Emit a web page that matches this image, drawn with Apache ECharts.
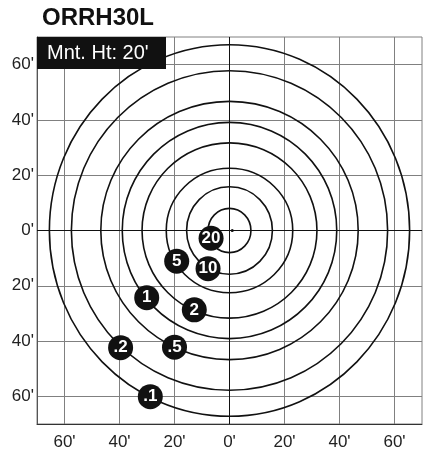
<!DOCTYPE html>
<html>
<head>
<meta charset="utf-8">
<script src="https://cdn.jsdelivr.net/npm/echarts@6/dist/echarts.min.js"></script>
<style>html,body{margin:0;padding:0;background:#fff;}#c{width:425px;height:451px;}</style>
</head>
<body>
<div id="c"></div>
<script>
// ---- data ----
const titleText = 'ORRH30L';
const mountText = "Mnt. Ht: 20'";
const tickValues = [-60, -40, -20, 0, 20, 40, 60];
const levelLabels = ['20', '10', '5', '2', '1', '.5', '.2', '.1'];
const contourRadiusX = [7.8, 15.6, 23.0, 31.8, 39.0, 46.8, 57.5, 65.5];
const contourRadiusY = [8.0, 15.8, 22.5, 31.7, 39.1, 46.7, 57.8, 67.2];
const labelX = [-6.7, -7.8, -19.2, -12.8, -30.1, -20.0, -39.6, -28.8];
const labelY = [-2.8, -13.8, -11.1, -28.7, -24.3, -42.2, -42.4, -60.1];
const fixturePoint = [1, 0];

const FONT = '"Liberation Sans", Arial, sans-serif';
const fmt = v => tickValues.indexOf(v) >= 0 ? Math.abs(v) + "'" : '';

const chart = echarts.init(document.getElementById('c'), null, {renderer: 'canvas'});
const gridColors = ['rgba(0,0,0,0)', '#808080'];

chart.setOption({
  animation: false,
  title: {
    text: titleText, left: 42, top: 6, padding: 0,
    textStyle: {fontFamily: FONT, fontWeight: 'bold', fontSize: 24, color: '#111'}
  },
  grid: {left: 37, top: 37, width: 392, height: 391, show: true, borderColor: '#808080', borderWidth: 1, backgroundColor: 'transparent'},
  xAxis: {
    type: 'value', min: -70, max: 70, interval: 10,
    axisLine: {show: true, onZero: false, lineStyle: {color: '#333', width: 1}},
    axisTick: {show: false},
    axisLabel: {formatter: fmt, fontFamily: FONT, fontSize: 17, color: '#222', margin: 10, showMinLabel: true, showMaxLabel: true},
    splitLine: {show: true, lineStyle: {color: gridColors, width: 1}}
  },
  yAxis: {
    type: 'value', min: -70, max: 70, interval: 10,
    axisLine: {show: true, onZero: false, lineStyle: {color: '#555', width: 1}},
    axisTick: {show: false},
    axisLabel: {formatter: fmt, fontFamily: FONT, fontSize: 17, color: '#222', margin: 3},
    splitLine: {show: true, lineStyle: {color: gridColors, width: 1}}
  },
  graphic: [
    {type: 'rect', left: 37, top: 37, shape: {width: 129, height: 32}, style: {fill: '#111'}, z: 100},
    {type: 'text', left: 47, top: 43, style: {text: mountText, fill: '#fff', font: '20px ' + FONT}, z: 101}
  ],
  series: [
    {
      type: 'custom',
      coordinateSystem: 'cartesian2d',
      data: contourRadiusX.map((r, i) => [r, contourRadiusY[i]]),
      encode: {x: 0, y: 1},
      silent: true,
      z: 3,
      renderItem: function (params, api) {
        const c = api.coord([0, 0]);
        const s = api.size([api.value(0), api.value(1)]);
        return {
          type: 'ellipse',
          shape: {cx: c[0], cy: c[1], rx: s[0], ry: s[1]},
          style: {fill: 'none', stroke: '#111', lineWidth: 1.6}
        };
      }
    },
    {
      type: 'scatter',
      data: [fixturePoint],
      symbolSize: 3,
      itemStyle: {color: '#111', opacity: 1},
      silent: true,
      z: 4,
      markLine: {
        silent: true, symbol: 'none', label: {show: false},
        lineStyle: {color: '#111', width: 1, type: 'solid', opacity: 1},
        data: [{xAxis: 0}, {yAxis: 0}]
      }
    },
    {
      type: 'scatter',
      data: labelX.map((x, i) => [x, labelY[i], levelLabels[i]]),
      symbol: 'circle',
      symbolSize: 25,
      itemStyle: {color: '#111', opacity: 1},
      silent: true,
      z: 10,
      label: {
        show: true, position: 'inside',
        formatter: p => p.value[2],
        color: '#fff', fontFamily: FONT, fontWeight: 'bold', fontSize: 17
      }
    }
  ]
});
</script>
</body>
</html>
